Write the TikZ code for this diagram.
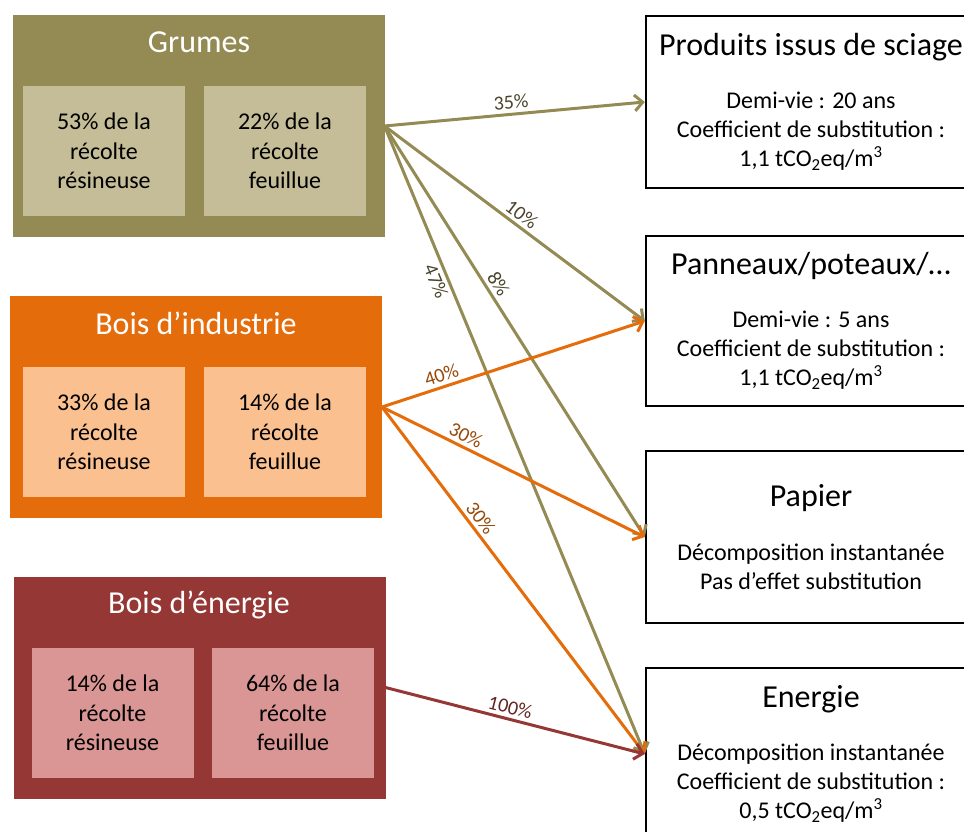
\documentclass[tikz,border=0pt]{standalone}
\usepackage{fontspec}
\setmainfont{Carlito}
\usepackage{tikz}
\usetikzlibrary{arrows.meta}
\usepackage{xcolor}
\definecolor{grumesfill}{HTML}{948A54}
\definecolor{grumesin}{HTML}{C4BD97}
\definecolor{grumestxt}{HTML}{4A452A}
\definecolor{indfill}{HTML}{E46C0A}
\definecolor{indin}{HTML}{FAC090}
\definecolor{indtxt}{HTML}{984807}
\definecolor{enefill}{HTML}{953735}
\definecolor{enein}{HTML}{D99694}
\definecolor{enetxt}{HTML}{632523}
\newcommand{\bigsize}{\fontsize{32}{38}\selectfont}

\begin{document}
\begin{tikzpicture}[x=1pt,y=-1pt]
    \tikzstyle{group}=[draw=none,minimum width=372pt,minimum height=222pt,inner sep=0pt,outer sep=0pt]
    \tikzstyle{part}=[minimum width=162pt,minimum height=130pt,inner sep=0pt,align=center,font=\fontsize{24}{29.5}\selectfont]
    \tikzstyle{headtxt}=[text=white,font=\bigsize]
    \tikzstyle{usebox}=[draw=black,line width=2.5pt,minimum width=330pt,minimum height=172pt,align=center,font=\fontsize{24}{29}\selectfont]
    \tikzstyle{flow}=[line width=3pt,-{Straight Barb[length=8pt,width=16pt]}]
    \tikzstyle{pct}=[font=\fontsize{20}{23}\selectfont,sloped]
    \clip (0,0) rectangle (964,832);
    \fill[white] (0,0) rectangle (964,832);
    \node[group,fill=grumesfill] (grumes) at (198.5,126) {};
    \node[headtxt] (grumesT) at (199,42) {Grumes};
    \node[part,fill=grumesin] (grumesR) at (104,151) {53\% de la\\récolte\\résineuse};
    \node[part,fill=grumesin] (grumesF) at (285,151) {22\% de la\\récolte\\feuillue};
    \node[group,fill=indfill] (indus) at (196,407) {};
    \node[headtxt] (indusT) at (196,323) {Bois d’industrie};
    \node[part,fill=indin] (indusR) at (104,432) {33\% de la\\récolte\\résineuse};
    \node[part,fill=indin] (indusF) at (285,432) {14\% de la\\récolte\\feuillue};
    \node[group,fill=enefill] (energ) at (199.5,687.5) {};
    \node[headtxt] (energT) at (199,605) {Bois d’énergie};
    \node[part,fill=enein] (energR) at (112.5,713) {14\% de la\\récolte\\résineuse};
    \node[part,fill=enein] (energF) at (293,713) {64\% de la\\récolte\\feuillue};
    \node[usebox] (sciage) at (811,102) {{\bigsize Produits issus de sciage}\\[24pt]Demi-vie : 20 ans\\Coefficient de substitution :\\1,1 tCO\textsubscript{2}eq/m\textsuperscript{3}};
    \node[usebox,minimum height=170pt] (panneaux) at (811,321) {{\bigsize Panneaux/poteaux/…}\\[24pt]Demi-vie : 5 ans\\Coefficient de substitution :\\1,1 tCO\textsubscript{2}eq/m\textsuperscript{3}};
    \node[usebox] (papier) at (811,537) {{\bigsize Papier}\\[25pt]Décomposition instantanée\\Pas d’effet substitution};
    \node[usebox] (energie) at (811,754) {{\bigsize Energie}\\[24pt]Décomposition instantanée\\Coefficient de substitution :\\0,5 tCO\textsubscript{2}eq/m\textsuperscript{3}};
    \draw[flow,grumesfill] (grumes.east) -- node[pct,text=grumestxt,pos=.49,above] (p35) {35\%} (sciage.west);
    \draw[flow,grumesfill] (grumes.east) -- node[pct,text=grumestxt,pos=.5,above] (p10) {10\%} (panneaux.west);
    \draw[flow,grumesfill] (grumes.east) -- node[pct,text=grumestxt,pos=.4,above] (p8) {8\%} (papier.west);
    \draw[flow,grumesfill] (grumes.east) -- node[pct,text=grumestxt,pos=.24,below] (p47) {47\%} (energie.west);
    \draw[flow,indfill] (indus.east) -- node[pct,text=indtxt,pos=.24,above] (p40) {40\%} (panneaux.west);
    \draw[flow,indfill] (indus.east) -- node[pct,text=indtxt,pos=.3,above] (p30a) {30\%} (papier.west);
    \draw[flow,indfill] (indus.east) -- node[pct,text=indtxt,pos=.34,above] (p30b) {30\%} (energie.west);
    \draw[flow,enefill] (energ.east) -- node[pct,text=enetxt,pos=.47,above] (p100) {100\%} (energie.west);
\end{tikzpicture}
\end{document}
